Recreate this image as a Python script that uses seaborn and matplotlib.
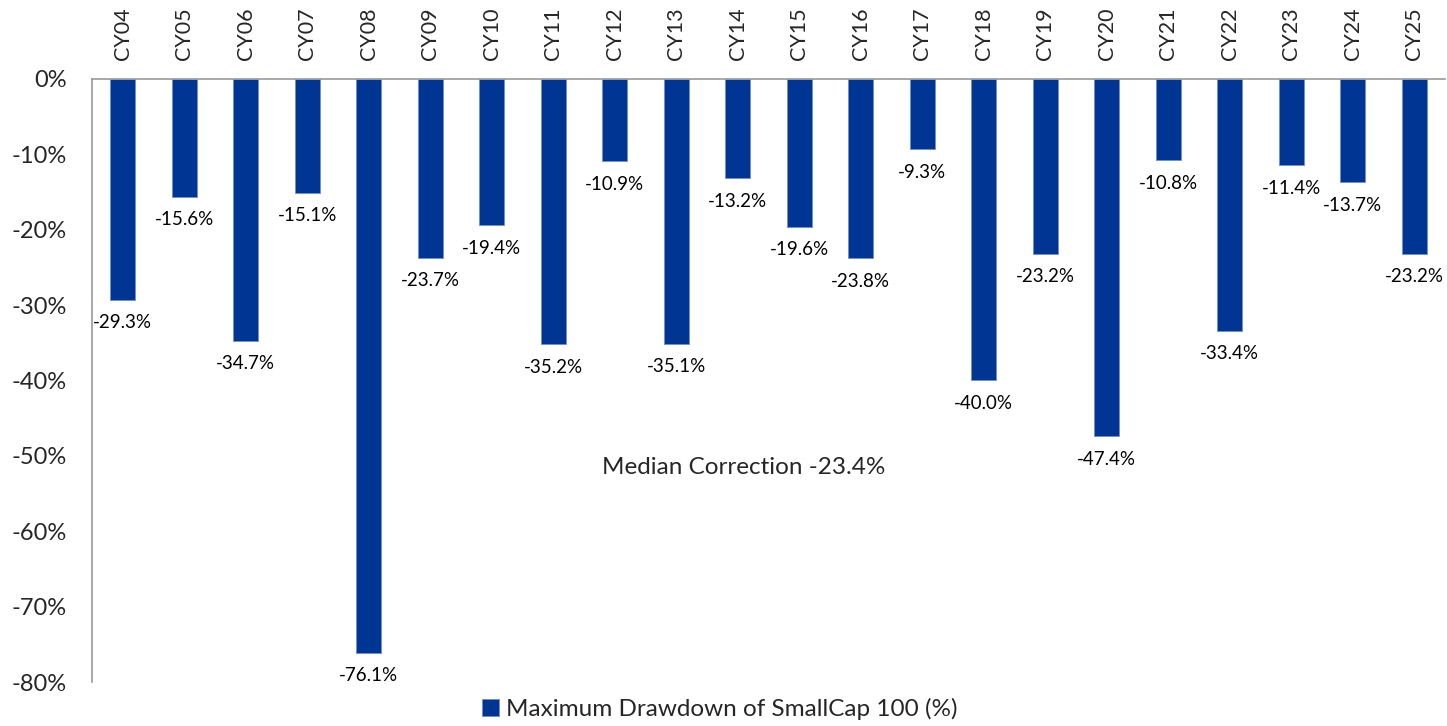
import matplotlib
matplotlib.use("Agg")
import matplotlib.pyplot as plt
import seaborn as sns
import pandas as pd

years = ["CY04", "CY05", "CY06", "CY07", "CY08", "CY09", "CY10", "CY11", "CY12", "CY13", "CY14",
         "CY15", "CY16", "CY17", "CY18", "CY19", "CY20", "CY21", "CY22", "CY23", "CY24", "CY25"]
drawdown = [-29.3, -15.6, -34.7, -15.1, -76.1, -23.7, -19.4, -35.2, -10.9, -35.1, -13.2,
            -19.6, -23.8, -9.3, -40.0, -23.2, -47.4, -10.8, -33.4, -11.4, -13.7, -23.2]
series_name = "Maximum Drawdown of SmallCap 100 (%)"
median_note = "Median Correction -23.4%"

sns.set_theme(style="white")
plt.rcParams['font.family'] = ['Lato', 'DejaVu Sans']

df = pd.DataFrame({'Year': years, 'Drawdown': drawdown})

fig = plt.figure(figsize=(14.47, 7.26), dpi=100)
ax = fig.add_axes([0.0636, 0.0606, 0.935, 0.8306])

sns.barplot(data=df, x='Year', y='Drawdown', color='#003594', width=0.4,
            edgecolor='#6f8fd0', linewidth=0.6, saturation=1, label=series_name, ax=ax)

# value labels under each bar
for i, v in enumerate(drawdown):
    ax.annotate(f"{v:.1f}%", (i, v), xytext=(0, -10.5), textcoords='offset points',
                ha='center', va='top', fontsize=13.5, color='black')

ax.text(10.1, -51.5, median_note, ha='center', va='center', fontsize=17.5)

ax.set_ylim(-80, 0)
ax.set_xlim(-0.5, 21.5)
ax.set_yticks(range(-80, 1, 10))
ax.set_yticklabels([f"{t}%" for t in range(-80, 1, 10)], fontsize=17)
ax.xaxis.tick_top()
ax.tick_params(axis='x', labelsize=15.5, labelrotation=90, length=0, pad=14)
ax.tick_params(axis='y', length=0, pad=18)
ax.set_xlabel('')
ax.set_ylabel('')

for side in ['right', 'bottom']:
    ax.spines[side].set_visible(False)
ax.spines['left'].set_color('#999999')
ax.spines['top'].set_color('#999999')
ax.spines['left'].set_linewidth(1.2)
ax.spines['top'].set_linewidth(1.2)

ax.legend(loc='lower center', bbox_to_anchor=(0.464, -0.1), frameon=False,
          fontsize=17.5, handlelength=0.7, handleheight=0.7, handletextpad=0.3)

fig.savefig("out.png", dpi=100)
